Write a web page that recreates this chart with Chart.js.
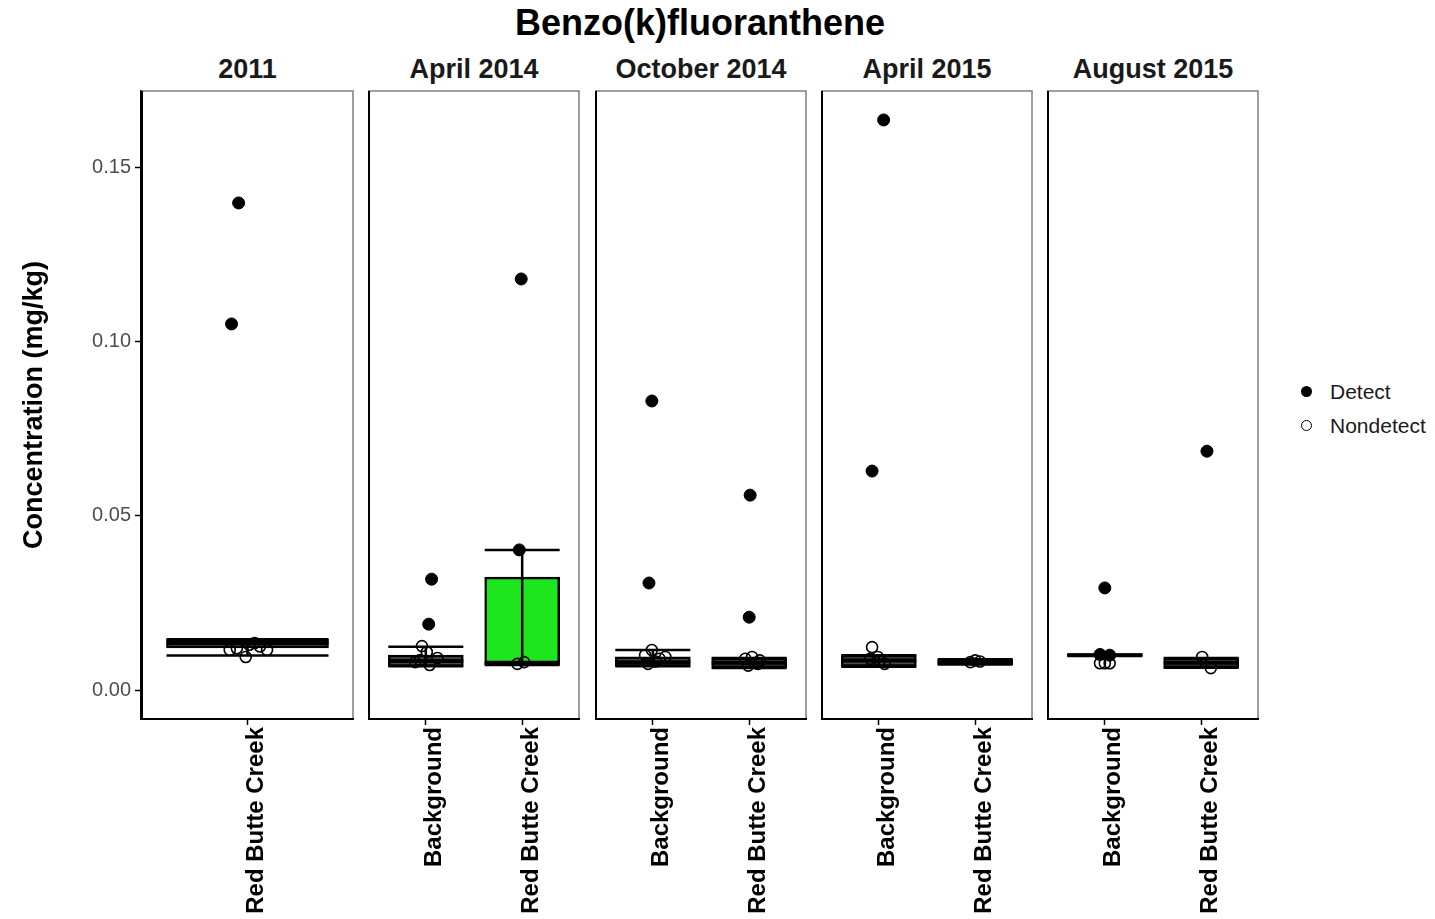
<html>
<head>
<style>
  body { margin: 0; background: #fff; font-family: "Liberation Sans", Arial, sans-serif; }
  #wrap { position: relative; width: 1435px; height: 919px; }
  canvas { position: absolute; top: 0; }
  .title { position: absolute; left: 141px; width: 1118px; top: 2px; text-align: center; font-weight: bold; font-size: 36px; color: #000; }
  .strip { position: absolute; top: 54px; text-align: center; font-weight: bold; font-size: 27px; color: #1a1a1a; }
  .legend { position: absolute; left: 1301px; font-size: 21px; color: #1a1a1a; }
  .dot { position: absolute; left: 0; top: 6px; width: 11px; height: 11px; border-radius: 50%; box-sizing: border-box; }
  .legend span.txt { position: absolute; left: 29px; top: 0; white-space: nowrap; }
</style>
</head>
<body>
<div id="wrap">
  <div class="title">Benzo(k)fluoranthene</div>
  <div class="legend" style="top:380px"><div class="dot" style="background:#000"></div><span class="txt">Detect</span></div>
  <div class="legend" style="top:414px"><div class="dot" style="border:1.5px solid #000"></div><span class="txt">Nondetect</span></div>
</div>
<script src="https://cdn.jsdelivr.net/npm/chart.js@4.4.0/dist/chart.umd.min.js"></script>
<script>
// facets and sites
var panelTitles = ['2011', 'April 2014', 'October 2014', 'April 2015', 'August 2015'];
var panelSites = [
    ['Red Butte Creek'],
    ['Background', 'Red Butte Creek'],
    ['Background', 'Red Butte Creek'],
    ['Background', 'Red Butte Creek'],
    ['Background', 'Red Butte Creek']
];

// box statistics, one entry per site in each panel
var whiskerLow  = [[0.0099], [0.0068, 0.0072], [0.0068, 0.0063], [0.0067, 0.0073], [0.0099, 0.0064]];
var q1          = [[0.0121], [0.0068, 0.0072], [0.0068, 0.0064], [0.0068, 0.0073], [0.0099, 0.0064]];
var median      = [[0.0135], [0.0083, 0.0078], [0.0080, 0.0078], [0.0085, 0.0080], [0.0100, 0.0078]];
var q3          = [[0.0146], [0.0100, 0.0324], [0.0095, 0.0092], [0.0100, 0.0088], [0.0101, 0.0092]];
var whiskerHigh = [[0.0146], [0.0124, 0.0402], [0.0115, 0.0092], [0.0100, 0.0088], [0.0101, 0.0092]];

// jittered samples (x = site position + jitter)
var detectX = [
    [0.95, 0.91],
    [1.06, 1.03, 1.97, 1.99],
    [0.99, 0.96, 2.01, 2.00],
    [1.05, 0.93],
    [1.00, 0.95, 1.05, 2.06]
];
var detectY = [
    [0.1397, 0.1050],
    [0.0318, 0.0189, 0.0402, 0.1179],
    [0.0829, 0.0307, 0.0559, 0.0209],
    [0.1635, 0.0628],
    [0.0293, 0.0102, 0.0100, 0.0685]
];
var nondetectX = [
    [0.90, 0.94, 0.99, 1.01, 1.04, 1.07, 1.11],
    [0.96, 1.01, 0.94, 1.04, 1.12, 0.89, 2.02, 1.95],
    [0.99, 0.92, 1.07, 0.95, 1.03, 1.13, 1.96, 2.03, 2.09, 1.99, 2.11],
    [0.93, 1.01, 1.06, 0.91, 0.99, 2.00, 1.95, 2.05],
    [0.95, 1.00, 1.05, 2.01, 2.10]
];
var nondetectY = [
    [0.0115, 0.0120, 0.0095, 0.0130, 0.0135, 0.0125, 0.0115],
    [0.0126, 0.0109, 0.0086, 0.0072, 0.0092, 0.0080, 0.0080, 0.0075],
    [0.0115, 0.0100, 0.0090, 0.0075, 0.0082, 0.0095, 0.0090, 0.0095, 0.0075, 0.0070, 0.0085],
    [0.0123, 0.0085, 0.0075, 0.0090, 0.0095, 0.0085, 0.0080, 0.0082],
    [0.0077, 0.0077, 0.0077, 0.0095, 0.0063]
];

var yTicks = [0.00, 0.05, 0.10, 0.15];

// layout
var panelLeft = [141, 368, 595, 821, 1047];
var panelWidth = [213, 212, 212, 212, 212];
var boxPx = [162, 75, 75, 75, 75];
var boxColors = [['#4a4a4a'], ['#4a4a4a', '#1ee61e'], ['#4a4a4a', '#4a4a4a'], ['#4a4a4a', '#4a4a4a'], ['#4a4a4a', '#4a4a4a']];

var framePlugin = {
    id: 'frame',
    afterDraw: function (chart) {
        var a = chart.chartArea, ctx = chart.ctx;
        ctx.save();
        ctx.strokeStyle = '#7f7f7f';
        ctx.lineWidth = 1.5;
        ctx.beginPath();
        ctx.moveTo(a.left, a.top); ctx.lineTo(a.right - 1, a.top); ctx.lineTo(a.right - 1, a.bottom);
        ctx.stroke();
        ctx.strokeStyle = '#000';
        ctx.lineWidth = 2;
        ctx.beginPath();
        ctx.moveTo(a.left + 1, a.top); ctx.lineTo(a.left + 1, a.bottom); ctx.lineTo(a.right, a.bottom);
        ctx.stroke();
        ctx.restore();
    }
};

function makePanel(p) {
    var sites = panelSites[p];
    var n = sites.length;
    var wrap = document.getElementById('wrap');
    var left = p === 0 ? 0 : panelLeft[p];
    var width = p === 0 ? panelLeft[0] + panelWidth[0] : panelWidth[p];

    var strip = document.createElement('div');
    strip.className = 'strip';
    strip.style.left = panelLeft[p] + 'px';
    strip.style.width = panelWidth[p] + 'px';
    strip.textContent = panelTitles[p];
    wrap.appendChild(strip);

    var canvas = document.createElement('canvas');
    canvas.width = width;
    canvas.height = 919;
    canvas.style.left = left + 'px';
    canvas.style.width = width + 'px';
    canvas.style.height = '919px';
    wrap.appendChild(canvas);

    var box = [], med = [], caps = [], stems = [], colors = [];
    for (var i = 0; i < n; i++) {
        var x = i + 1;
        box.push({x: x, y: [q1[p][i], q3[p][i]]});
        colors.push(boxColors[p][i]);
        med.push({x: x, y: median[p][i]});
        caps.push({x: x, y: whiskerLow[p][i]}, {x: x, y: whiskerHigh[p][i]});
        stems.push({x: x, y: whiskerLow[p][i]}, {x: x, y: whiskerHigh[p][i]}, {x: x + 0.5, y: null});
    }
    var det = detectX[p].map(function (v, k) { return {x: v, y: detectY[p][k]}; });
    var non = nondetectX[p].map(function (v, k) { return {x: v, y: nondetectY[p][k]}; });

    new Chart(canvas.getContext('2d'), {
        type: 'scatter',
        data: {
            datasets: [
                {type: 'bar', data: box, backgroundColor: colors, borderColor: '#000', borderWidth: 2.5,
                 borderSkipped: false, barThickness: boxPx[p], order: 5},
                {type: 'scatter', data: med, pointStyle: 'line', pointRadius: boxPx[p] / 2,
                 borderColor: '#000', borderWidth: 4, order: 4},
                {type: 'scatter', data: caps, pointStyle: 'line', pointRadius: boxPx[p] / 2,
                 borderColor: '#000', borderWidth: 2.5, order: 3},
                {type: 'line', data: stems, borderColor: '#000', borderWidth: 2.5, pointRadius: 0,
                 spanGaps: false, order: 2},
                {label: 'Nondetect', data: non, pointRadius: 5.5, backgroundColor: 'rgba(0,0,0,0)',
                 borderColor: '#000', borderWidth: 1.6, order: 1},
                {label: 'Detect', data: det, pointRadius: 6, backgroundColor: '#000',
                 borderColor: '#000', borderWidth: 1, order: 0}
            ]
        },
        options: {
            responsive: false,
            animation: false,
            devicePixelRatio: 1,
            layout: {autoPadding: false, padding: {top: 91, left: 0, right: 0, bottom: 0}},
            plugins: {legend: {display: false}, tooltip: {enabled: false}},
            scales: {
                x: {
                    type: 'linear', min: 0.4, max: n + 0.6, offset: false,
                    afterBuildTicks: function (s) { s.ticks = sites.map(function (_, k) { return {value: k + 1}; }); },
                    afterFit: function (s) { s.height = 200; s.paddingLeft = 0; s.paddingRight = 0; },
                    grid: {offset: false, drawOnChartArea: false, tickLength: 6, color: '#000', tickWidth: 1.5},
                    border: {display: true, color: '#000', width: 2},
                    ticks: {
                        autoSkip: false, minRotation: 90, maxRotation: 90, labelOffset: 9, padding: 2,
                        color: '#000', font: {family: 'Liberation Sans', size: 24, weight: 'bold'},
                        callback: function (v) { return sites[Math.round(v) - 1]; }
                    }
                },
                y: {
                    type: 'linear', min: -0.0083, max: 0.1718,
                    display: p === 0,
                    afterBuildTicks: function (s) { s.ticks = yTicks.map(function (v) { return {value: v}; }); },
                    afterFit: function (s) { s.width = p === 0 ? 141 : 0; s.paddingTop = 0; s.paddingBottom = 0; },
                    grid: {drawOnChartArea: false, tickLength: 6, color: '#000', tickWidth: 1.5},
                    border: {display: true, color: '#000', width: 2},
                    ticks: {
                        padding: 4, color: '#4d4d4d',
                        font: {family: 'Liberation Sans', size: 20},
                        callback: function (v) { return v.toFixed(2); }
                    },
                    title: {
                        display: true, text: 'Concentration (mg/kg)', color: '#000',
                        font: {family: 'Liberation Sans', size: 27, weight: 'bold'},
                        padding: {top: 18, bottom: 0}
                    }
                }
            }
        },
        plugins: [framePlugin]
    });
}

for (var p = 0; p < panelTitles.length; p++) {
    makePanel(p);
}
</script>
</body>
</html>
